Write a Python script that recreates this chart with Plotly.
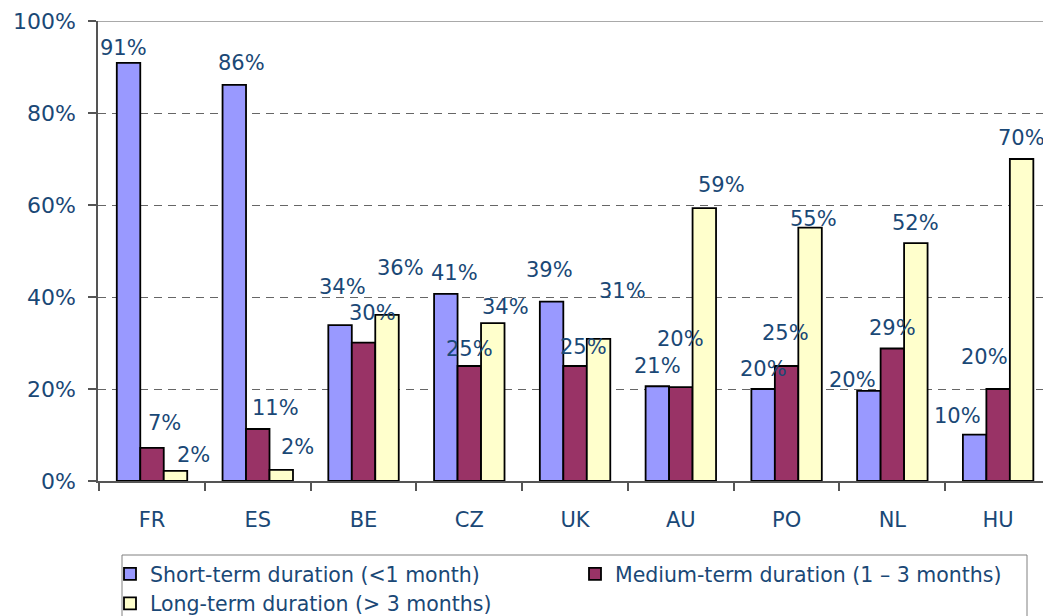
import plotly.graph_objects as go

categories = ["FR", "ES", "BE", "CZ", "UK", "AU", "PO", "NL", "HU"]
series_names = [
    "Short-term duration (<1 month)",
    "Medium-term duration (1 – 3 months)",
    "Long-term duration (> 3 months)",
]
short_term = [90.9, 86.1, 33.9, 40.7, 39.0, 20.6, 20.0, 19.6, 10.1]
medium_term = [7.2, 11.3, 30.1, 25.0, 25.0, 20.4, 25.0, 28.8, 20.0]
long_term = [2.2, 2.4, 36.1, 34.3, 30.9, 59.3, 55.1, 51.7, 70.0]
y_ticks = [0, 20, 40, 60, 80, 100]
y_tick_labels = ["0%", "20%", "40%", "60%", "80%", "100%"]

# label nudges in px (dx right, dy up) relative to each bar's top centre
short_nudge = [(-5, 15), (7, 22), (2, 38), (9, 21), (-2, 32), (0, 20), (0, 20), (-16, 11), (-17, 19)]
medium_nudge = [(12, 25), (18, 21), (9, 30), (0, 17), (8, 19), (0, 48), (-1, 33), (0, 21), (-14, 32)]
long_nudge = [(18, 16), (16, 23), (13, 47), (13, 16), (24, 48), (17, 23), (3, 9), (0, 20), (0, 21)]

colors = ["#9999FF", "#993366", "#FFFFCC"]
text_color = "#1A4876"
font_family = "DejaVu Sans"

# page has an 8px body margin; figure is sized so it fills the 1051x616 window
W, H = 1043, 608
ML, MR, MT, MB = 90, 0, 13, 135
BARGAP = 0.334

fig = go.Figure()
all_series = [short_term, medium_term, long_term]
for name, vals, col in zip(series_names, all_series, colors):
    fig.add_trace(go.Bar(
        x=categories, y=vals, name=name,
        marker=dict(color=col, line=dict(color="black", width=1.8)),
    ))

plot_w = W - ML - MR
plot_h = H - MT - MB
bar_w = plot_w / len(categories) * (1 - BARGAP) / 3
nudges = [short_nudge, medium_nudge, long_nudge]
for i, (vals, nud) in enumerate(zip(all_series, nudges)):
    for cat, v, (dx, dy) in zip(categories, vals, nud):
        fig.add_annotation(
            x=cat, y=v, text=f"{v:.0f}%", showarrow=False,
            xshift=(i - 1) * bar_w + dx, yshift=dy,
            xanchor="center", yanchor="middle",
            font=dict(family=font_family, size=21, color=text_color),
        )

# top border of plot area
fig.add_shape(type="line", xref="paper", yref="y", x0=0, x1=1, y0=100, y1=100,
              line=dict(color="#8C8C8C", width=1.5))
# legend frame (extends past the bottom edge as in the reference)
fig.add_shape(type="rect", xref="paper", yref="paper",
              x0=24 / plot_w, x1=929 / plot_w,
              y0=-74 / plot_h, y1=-150 / plot_h,
              line=dict(color="#808080", width=1), fillcolor="rgba(0,0,0,0)")

fig.update_layout(
    width=W, height=H,
    margin=dict(l=ML, r=MR, t=MT, b=MB, autoexpand=False),
    paper_bgcolor="white", plot_bgcolor="white",
    barmode="group", bargap=BARGAP, bargroupgap=0,
    font=dict(family=font_family, size=21, color=text_color),
    showlegend=True,
    legend=dict(
        orientation="h", x=12 / plot_w, xanchor="left", y=-73 / plot_h, yanchor="top",
        entrywidth=420, entrywidthmode="pixels",
        bgcolor="rgba(0,0,0,0)", borderwidth=0,
        font=dict(family=font_family, size=20.5, color=text_color),
        traceorder="normal", itemclick=False, itemdoubleclick=False,
    ),
    xaxis=dict(
        showline=True, linecolor="#555555", linewidth=1.5,
        ticks="outside", tickson="boundaries", ticklen=8, tickcolor="#555555", tickwidth=1.5,
        tickfont=dict(family=font_family, size=21, color=text_color),
        ticklabelstandoff=19,
        showgrid=False,
    ),
    yaxis=dict(
        range=[0, 100], tickvals=y_ticks, ticktext=y_tick_labels,
        showline=True, linecolor="#555555", linewidth=1.5,
        ticks="outside", ticklen=8, tickcolor="#555555", tickwidth=1.5,
        tickfont=dict(family=font_family, size=22, color=text_color),
        ticklabelstandoff=8,
        showgrid=True, gridcolor="#666666", gridwidth=1, griddash="8px,6px",
        zeroline=False,
    ),
)

fig.write_html("out.html")
